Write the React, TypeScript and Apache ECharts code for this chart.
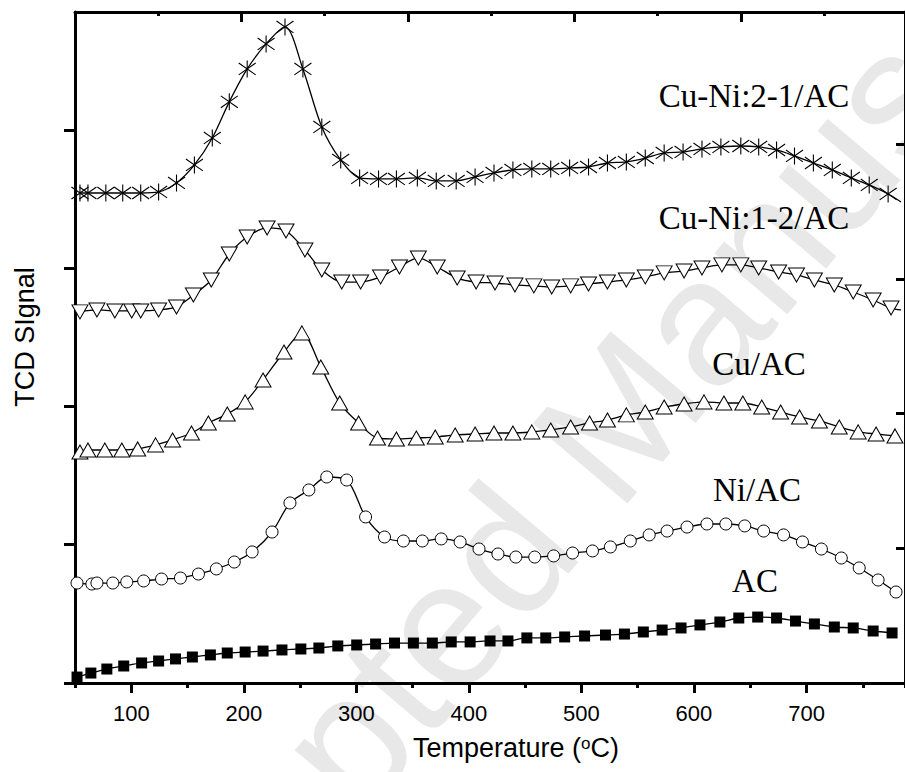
import React, { useEffect, useRef } from "react";
import * as echarts from "echarts";

// Temperature (°C) and TCD signal (arbitrary units, tick spacing = 1)
const acTemp = [51.8, 64.1, 78.3, 93.3, 109.2, 124.3, 139.3, 154.3, 170.3, 185.3, 201.2, 217.1, 233.9, 250.7, 266.7, 283.5, 300.3, 317.1, 333.9, 350.7, 367.5, 384.3, 401.1, 418.8, 434.7, 451.5, 468.3, 485.1, 502.8, 521.4, 538.2, 555.0, 571.7, 588.5, 605.3, 623.0, 639.8, 656.6, 673.4, 690.2, 707.0, 724.7, 741.5, 759.2, 776.0];
const acSignal = [0.043, 0.072, 0.101, 0.123, 0.145, 0.159, 0.174, 0.188, 0.203, 0.217, 0.224, 0.231, 0.239, 0.246, 0.253, 0.268, 0.275, 0.282, 0.289, 0.289, 0.289, 0.297, 0.297, 0.304, 0.304, 0.326, 0.326, 0.333, 0.340, 0.347, 0.354, 0.369, 0.383, 0.398, 0.420, 0.441, 0.470, 0.477, 0.470, 0.448, 0.427, 0.405, 0.398, 0.376, 0.362];

const niTemp = [51.8, 65.0, 69.5, 83.6, 96.0, 111.0, 126.9, 143.7, 159.7, 175.6, 191.5, 207.4, 225.1, 241.0, 257.8, 273.7, 291.4, 308.2, 325.0, 341.8, 358.6, 375.4, 392.2, 409.0, 425.8, 441.7, 458.5, 475.3, 492.1, 509.8, 525.7, 543.4, 560.2, 576.1, 593.8, 611.5, 628.3, 645.1, 661.9, 679.6, 696.4, 713.2, 730.9, 746.8, 763.6, 779.5];
const niSignal = [0.723, 0.716, 0.723, 0.723, 0.731, 0.738, 0.752, 0.759, 0.788, 0.825, 0.875, 0.948, 1.092, 1.302, 1.396, 1.490, 1.468, 1.201, 1.056, 1.027, 1.027, 1.042, 1.020, 0.969, 0.933, 0.911, 0.911, 0.919, 0.940, 0.955, 0.984, 1.027, 1.071, 1.099, 1.128, 1.150, 1.150, 1.136, 1.099, 1.071, 1.020, 0.969, 0.904, 0.832, 0.745, 0.658];

const cuTemp = [54.4, 61.5, 76.5, 91.6, 105.7, 121.6, 136.7, 153.5, 168.5, 185.3, 201.2, 217.1, 235.7, 251.6, 268.4, 285.2, 302.0, 318.8, 335.6, 353.3, 370.1, 387.8, 405.5, 422.3, 439.1, 455.9, 472.7, 490.4, 507.2, 523.1, 539.9, 556.7, 573.5, 591.2, 608.9, 626.6, 643.4, 660.2, 677.0, 693.8, 711.5, 729.1, 745.9, 761.8, 778.6];
const cuSignal = [1.671, 1.685, 1.685, 1.685, 1.693, 1.722, 1.758, 1.808, 1.881, 1.946, 2.033, 2.192, 2.394, 2.532, 2.286, 2.025, 1.881, 1.772, 1.765, 1.772, 1.779, 1.794, 1.801, 1.808, 1.808, 1.816, 1.830, 1.852, 1.881, 1.902, 1.939, 1.960, 1.996, 2.018, 2.033, 2.025, 2.025, 1.996, 1.960, 1.924, 1.895, 1.852, 1.816, 1.801, 1.787];

const cuNi12Temp = [54.4, 69.5, 85.4, 100.4, 108.4, 124.3, 140.2, 155.2, 171.1, 187.1, 203.0, 220.7, 237.5, 254.3, 269.3, 287.0, 303.8, 321.5, 338.3, 355.1, 371.9, 389.6, 406.4, 423.2, 440.9, 457.7, 473.6, 490.4, 506.3, 523.1, 539.9, 556.7, 573.5, 591.2, 607.1, 624.8, 641.6, 657.5, 675.2, 691.1, 707.0, 724.7, 741.5, 759.2, 775.1];
const cuNi12Signal = [2.684, 2.698, 2.691, 2.691, 2.691, 2.698, 2.720, 2.806, 2.915, 3.103, 3.226, 3.291, 3.269, 3.132, 2.987, 2.900, 2.900, 2.937, 3.009, 3.074, 3.009, 2.929, 2.900, 2.893, 2.879, 2.872, 2.864, 2.872, 2.886, 2.900, 2.915, 2.937, 2.966, 2.980, 3.002, 3.024, 3.024, 3.002, 2.973, 2.951, 2.915, 2.879, 2.828, 2.770, 2.712];
const cuNi12End = [784, 2.698];

const cuNi21Temp = [54.4, 61.5, 77.4, 92.4, 108.4, 124.3, 140.2, 156.1, 172.0, 187.1, 203.0, 219.8, 236.6, 252.5, 269.3, 286.1, 302.9, 319.7, 335.6, 354.2, 371.0, 388.7, 405.5, 422.3, 439.1, 455.9, 472.7, 489.5, 506.3, 523.1, 539.9, 556.7, 573.5, 590.3, 607.1, 623.9, 641.6, 657.5, 673.4, 689.3, 706.1, 722.9, 739.8, 755.7, 772.5];
const cuNi21Signal = [3.544, 3.544, 3.544, 3.544, 3.544, 3.552, 3.617, 3.747, 3.942, 4.203, 4.441, 4.622, 4.745, 4.441, 4.022, 3.783, 3.653, 3.646, 3.646, 3.653, 3.631, 3.631, 3.660, 3.689, 3.711, 3.718, 3.718, 3.725, 3.732, 3.761, 3.769, 3.797, 3.834, 3.841, 3.863, 3.877, 3.884, 3.877, 3.855, 3.812, 3.761, 3.711, 3.653, 3.602, 3.537];
const cuNi21End = [784, 3.479];

const xTickLabels = [100, 200, 300, 400, 500, 600, 700];
const yTicks = [0, 1, 2, 3, 4];
const seriesNames = ["AC", "Ni/AC", "Cu/AC", "Cu-Ni:1-2/AC", "Cu-Ni:2-1/AC"];

const SANS = "'Liberation Sans', Arial, sans-serif";
const SERIF = "'Liberation Serif', 'Times New Roman', serif";

const pairs = (t: number[], s: number[]) => t.map((x, i) => [x, s[i]]);

export default function App() {
  const ref = useRef<HTMLDivElement>(null);
  useEffect(() => {
    if (!ref.current) return;
    const chart = echarts.init(ref.current, undefined, { renderer: "svg" });
    const lineStyle = { color: "#000", width: 1.3 };
    const openItem = { color: "#fff", borderColor: "#000", borderWidth: 1 };
    const base = {
      type: "line" as const,
      smooth: 0.3,
      showAllSymbol: true,
      lineStyle,
      silent: true,
      emphasis: { disabled: true },
    };
    const option: any = {
      animation: false,
      backgroundColor: "#fff",
      grid: { left: 75, right: -4, top: 12, bottom: 89, containLabel: false },
      graphic: [
        {
          type: "text",
          z: -10,
          x: 596,
          y: 444,
          rotation: 0.87,
          silent: true,
          style: {
            text: "Accepted Manuscript",
            font: `180px ${SANS}`,
            fill: "#e8e8e8",
            textAlign: "center",
            textVerticalAlign: "middle",
          },
        },
        {
          type: "text",
          x: 25,
          y: 337,
          rotation: Math.PI / 2,
          style: {
            text: "TCD SIgnal",
            font: `27px ${SANS}`,
            fill: "#000",
            textAlign: "center",
            textVerticalAlign: "middle",
          },
        },
        {
          type: "text",
          x: 516,
          y: 748,
          style: {
            text: "Temperature ({sup|o}C)",
            font: `27px ${SANS}`,
            fill: "#000",
            textAlign: "center",
            textVerticalAlign: "middle",
            rich: { sup: { fontSize: 17, fontFamily: "Liberation Sans", verticalAlign: "top", fill: "#000" } },
          },
        },
        ...[
          { t: seriesNames[4], x: 754, y: 96 },
          { t: seriesNames[3], x: 754, y: 218 },
          { t: seriesNames[2], x: 759, y: 364 },
          { t: seriesNames[1], x: 757, y: 490 },
          { t: seriesNames[0], x: 755, y: 581 },
        ].map((l) => ({
          type: "text",
          x: l.x,
          y: l.y,
          style: {
            text: l.t,
            font: `33px ${SERIF}`,
            fill: "#000",
            textAlign: "center",
            textVerticalAlign: "middle",
          },
        })),
      ],
      xAxis: [
        {
          type: "value",
          position: "bottom",
          min: 50,
          max: 787.5,
          axisLine: { show: true, onZero: false, lineStyle: { color: "#000", width: 3 } },
          axisTick: { show: true, inside: false, length: 10, customValues: xTickLabels, lineStyle: { color: "#000", width: 3 } },
          axisLabel: {
            show: true,
            customValues: xTickLabels,
            color: "#000",
            fontSize: 22,
            fontFamily: "Liberation Sans",
            margin: 30,
            verticalAlign: "middle",
          },
          splitLine: { show: false },
        },
        {
          type: "value",
          position: "bottom",
          min: 50,
          max: 787.5,
          interval: 100,
          axisLine: { show: false, onZero: false },
          axisTick: { show: true, inside: false, length: 5, lineStyle: { color: "#000", width: 3 } },
          axisLabel: { show: false },
          splitLine: { show: false },
        },
        {
          type: "value",
          position: "top",
          min: 0,
          max: 4.985,
          interval: 1,
          axisLine: { show: true, onZero: false, lineStyle: { color: "#000", width: 3 } },
          axisTick: { show: true, inside: true, length: 10, lineStyle: { color: "#000", width: 3 } },
          minorTick: { show: true, splitNumber: 2, length: 4, lineStyle: { color: "#000", width: 3 } },
          axisLabel: { show: false },
          splitLine: { show: false },
        },
      ],
      yAxis: [
        {
          type: "value",
          position: "left",
          min: 0,
          max: 4.853,
          interval: 1,
          axisLine: { show: true, onZero: false, lineStyle: { color: "#000", width: 3 } },
          axisTick: { show: true, inside: false, length: 11, customValues: yTicks, lineStyle: { color: "#000", width: 3 } },
          axisLabel: { show: false },
          splitLine: { show: false },
        },
        {
          type: "value",
          position: "right",
          min: 0,
          max: 4.981,
          interval: 1,
          axisLine: { show: true, onZero: false, lineStyle: { color: "#000", width: 3 } },
          axisTick: { show: true, inside: true, length: 9, lineStyle: { color: "#000", width: 3 } },
          axisLabel: { show: false },
          splitLine: { show: false },
        },
      ],
      series: [
        {
          ...base,
          name: seriesNames[0],
          data: pairs(acTemp, acSignal),
          symbol: "rect",
          symbolSize: 11,
          itemStyle: { color: "#000" },
        },
        {
          ...base,
          name: seriesNames[1],
          data: pairs(niTemp, niSignal),
          symbol: "circle",
          symbolSize: 12,
          itemStyle: openItem,
        },
        {
          ...base,
          name: seriesNames[2],
          data: pairs(cuTemp, cuSignal),
          symbol: "triangle",
          symbolSize: [16, 14],
          itemStyle: openItem,
        },
        {
          ...base,
          name: seriesNames[3],
          data: [...pairs(cuNi12Temp, cuNi12Signal), { value: cuNi12End, symbol: "none" }],
          symbol: "triangle",
          symbolRotate: 180,
          symbolSize: [16, 14],
          itemStyle: openItem,
        },
        {
          ...base,
          name: seriesNames[4],
          data: [...pairs(cuNi21Temp, cuNi21Signal), { value: cuNi21End, symbol: "none" }],
          symbol: "path://M10,0L10,20M0,3L20,17M0,17L20,3",
          symbolKeepAspect: true,
          symbolSize: 17,
          itemStyle: { color: "transparent", borderColor: "#000", borderWidth: 1.1 },
        },
      ],
    };
    chart.setOption(option);
    return () => chart.dispose();
  }, []);
  return <div ref={ref} style={{ position: "absolute", left: 0, top: 0, width: 905, height: 772 }} />;
}
